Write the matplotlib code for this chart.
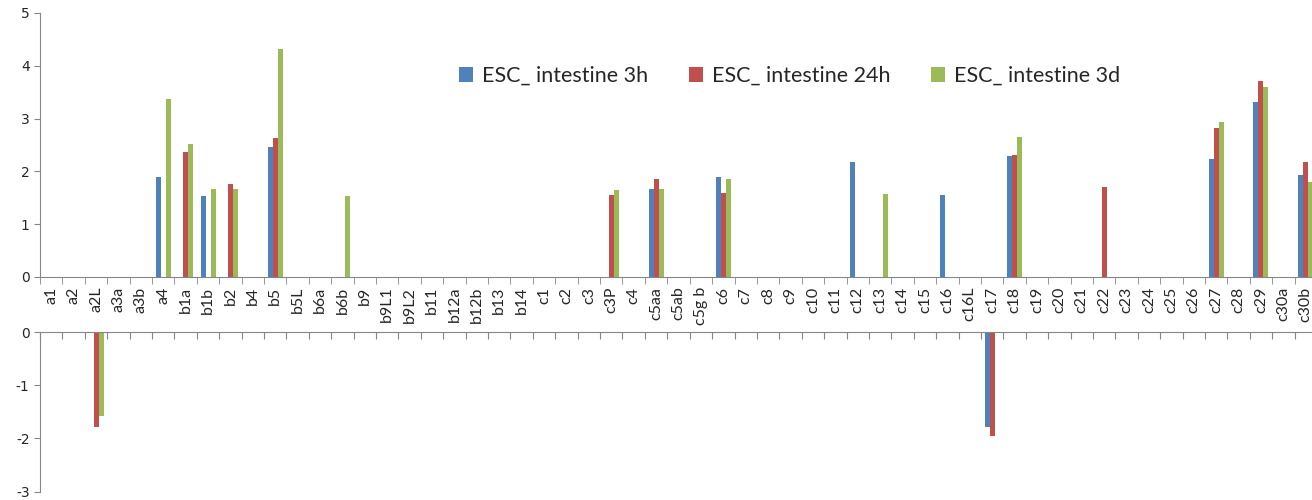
import numpy as np
import matplotlib
matplotlib.use("Agg")
import matplotlib.pyplot as plt
from matplotlib.ticker import FixedLocator, NullFormatter

plt.rcParams["axes.unicode_minus"] = False

categories = [
    "a1", "a2", "a2L", "a3a", "a3b", "a4", "b1a", "b1b", "b2", "b4",
    "b5", "b5L", "b6a", "b6b", "b9", "b9L1", "b9L2", "b11", "b12a", "b12b",
    "b13", "b14", "c1", "c2", "c3", "c3P", "c4", "c5aa", "c5ab", "c5g b",
    "c6", "c7", "c8", "c9", "c10", "c11", "c12", "c13", "c14", "c15",
    "c16", "c16L", "c17", "c18", "c19", "c20", "c21", "c22", "c23", "c24",
    "c25", "c26", "c27", "c28", "c29", "c30a", "c30b",
]

esc_3h = [
    0, 0, 0, 0, 0, 1.90, 0, 1.54, 0, 0,
    2.47, 0, 0, 0, 0, 0, 0, 0, 0, 0,
    0, 0, 0, 0, 0, 0, 0, 1.67, 0, 0,
    1.90, 0, 0, 0, 0, 0, 2.18, 0, 0, 0,
    1.55, 0, -1.78, 2.29, 0, 0, 0, 0, 0, 0,
    0, 0, 2.24, 0, 3.31, 0, 1.93,
]
esc_24h = [
    0, 0, -1.78, 0, 0, 0, 2.37, 0, 1.77, 0,
    2.63, 0, 0, 0, 0, 0, 0, 0, 0, 0,
    0, 0, 0, 0, 0, 1.56, 0, 1.85, 0, 0,
    1.59, 0, 0, 0, 0, 0, 0, 0, 0, 0,
    0, 0, -1.96, 2.32, 0, 0, 0, 1.70, 0, 0,
    0, 0, 2.83, 0, 3.71, 0, 2.18,
]
esc_3d = [
    0, 0, -1.58, 0, 0, 3.38, 2.52, 1.67, 1.67, 0,
    4.32, 0, 0, 1.54, 0, 0, 0, 0, 0, 0,
    0, 0, 0, 0, 0, 1.64, 0, 1.67, 0, 0,
    1.85, 0, 0, 0, 0, 0, 0, 1.57, 0, 0,
    0, 0, 0, 2.66, 0, 0, 0, 0, 0, 0,
    0, 0, 2.94, 0, 3.60, 0, 1.80,
]

series_names = ["ESC_ intestine 3h", "ESC_ intestine 24h", "ESC_ intestine 3d"]
colors = ["#4F81BD", "#C0504D", "#9BBB59"]

AXIS_COLOR = "#868686"
TEXT_COLOR = "#262626"


def style_axis(ax):
    for side in ["top", "right", "bottom", "left"]:
        ax.spines[side].set_visible(False)
    ax.spines["left"].set_visible(True)
    ax.spines["left"].set_color(AXIS_COLOR)
    ax.tick_params(axis="y", colors=AXIS_COLOR, labelcolor=TEXT_COLOR,
                   length=4, labelsize=10)
    for lab in ax.get_yticklabels():
        lab.set_fontfamily("DejaVu Sans")


def main() -> None:
    fig = plt.figure(figsize=(13.12, 5.0), dpi=100)
    left = 40 / 1312
    width = (1317 - 40) / 1312
    ax_top = fig.add_axes([left, 0.446, width, 0.528])
    ax_bot = fig.add_axes([left, 0.017, width, 0.319])

    x = np.arange(len(categories))
    bw = 0.223
    series = [esc_3h, esc_24h, esc_3d]
    handles = []
    for i, (vals, name, col) in enumerate(zip(series, series_names, colors)):
        vals = np.array(vals, dtype=float)
        pos = np.clip(vals, 0, None)
        neg = np.clip(vals, None, 0)
        h = ax_top.bar(x + (i - 1) * bw, pos, width=bw, color=col,
                       linewidth=0, label=name)
        ax_bot.bar(x + (i - 1) * bw, neg, width=bw, color=col, linewidth=0)
        handles.append(h)

    boundaries = np.arange(len(categories) + 1) - 0.5

    # top panel
    ax_top.set_xlim(-0.5, len(categories) - 0.5)
    ax_top.set_ylim(0, 5)
    ax_top.set_yticks([0, 1, 2, 3, 4, 5])
    style_axis(ax_top)
    ax_top.spines["bottom"].set_visible(True)
    ax_top.spines["bottom"].set_color(AXIS_COLOR)
    ax_top.set_xticks(x)
    ax_top.set_xticklabels(categories, rotation=90, fontsize=11.5,
                           family="Lato", color=TEXT_COLOR)
    ax_top.tick_params(axis="x", which="major", length=0, pad=7)
    ax_top.xaxis.set_minor_locator(FixedLocator(boundaries))
    ax_top.xaxis.set_minor_formatter(NullFormatter())
    ax_top.tick_params(axis="x", which="minor", length=5, color=AXIS_COLOR,
                       direction="out")

    # bottom panel
    ax_bot.set_xlim(-0.5, len(categories) - 0.5)
    ax_bot.set_ylim(-3, 0)
    ax_bot.set_yticks([0, -1, -2, -3])
    style_axis(ax_bot)
    ax_bot.spines["top"].set_visible(True)
    ax_bot.spines["top"].set_color(AXIS_COLOR)
    ax_bot.xaxis.set_ticks_position("top")
    ax_bot.set_xticks(boundaries)
    ax_bot.tick_params(axis="x", length=5, color=AXIS_COLOR, direction="in",
                       labeltop=False, labelbottom=False)

    fig.legend(handles=handles, labels=series_names, loc="center left",
               bbox_to_anchor=(440 / 1312, 1 - 76 / 500), ncol=3,
               frameon=False, prop={"family": "Lato", "size": 15.5},
               handlelength=0.65, handleheight=0.65, handletextpad=0.4,
               columnspacing=1.9, labelcolor=TEXT_COLOR)

    fig.savefig("out.png", dpi=100)


if __name__ == "__main__":
    main()
